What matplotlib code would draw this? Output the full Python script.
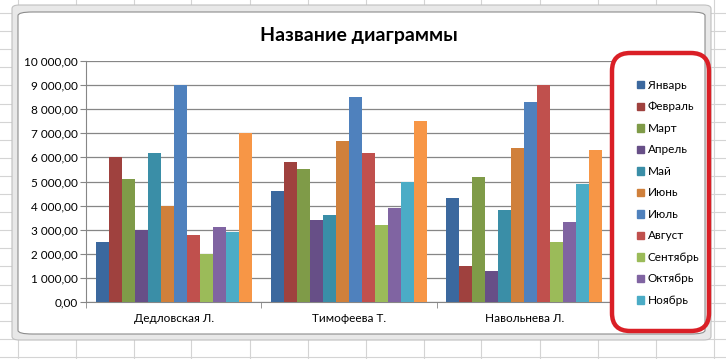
import numpy as np
import matplotlib
matplotlib.use("Agg")
import matplotlib.pyplot as plt
from matplotlib.patches import FancyBboxPatch, Rectangle
from matplotlib.lines import Line2D
from matplotlib.ticker import FuncFormatter

# chart data
people = ["Дедловская Л.", "Тимофеева Т.", "Навольнева Л."]
months = ["Январь", "Февраль", "Март", "Апрель", "Май", "Июнь", "Июль",
          "Август", "Сентябрь", "Октябрь", "Ноябрь", "Декабрь"]
dedlovskaya = [2500, 6000, 5100, 3000, 6200, 4000, 9000, 2800, 2000, 3100, 2900, 7000]
timofeeva = [4600, 5800, 5500, 3400, 3600, 6700, 8500, 6200, 3200, 3900, 5000, 7500]
navolneva = [4300, 1500, 5200, 1300, 3800, 6400, 8300, 9000, 2500, 3300, 4900, 6300]
legend_months = months[:11]  # December is cut off in the legend box

colors = ["#3B689E", "#9F413E", "#7F9B48", "#674F87", "#3A8EA7", "#D0803B",
          "#4F81BD", "#C0504D", "#9BBB59", "#8064A2", "#4BACC6", "#F79646"]

plt.rcParams["font.family"] = ["Lato", "DejaVu Sans"]

W, H = 726, 359
fig = plt.figure(figsize=(W / 100, H / 100), dpi=100)


def fx(px):
    return px / W


def fy(py):
    return 1 - py / H


# spreadsheet grid in the background
for x in np.arange(17.5, W, 58):
    fig.add_artist(Line2D([fx(x), fx(x)], [0, 1], color="#D4D4D4", lw=0.8, zorder=-30))
for y in np.arange(13, H, 18.1):
    fig.add_artist(Line2D([0, 1], [fy(y), fy(y)], color="#D4D4D4", lw=0.8, zorder=-30))

# chart object frame (selection border + white chart area)
fig.add_artist(FancyBboxPatch((fx(12), fy(340)), fx(711) - fx(12), fy(5) - fy(340),
                              boxstyle="round,pad=0,rounding_size=0.01",
                              fc="#E8E8E8", ec="#C0C0C0", lw=0.8, zorder=-20,
                              transform=fig.transFigure))
fig.add_artist(FancyBboxPatch((fx(18), fy(334)), fx(705) - fx(18), fy(12) - fy(334),
                              boxstyle="round,pad=0,rounding_size=0.02",
                              fc="white", ec="#8C8C8C", lw=0.8, zorder=-10,
                              transform=fig.transFigure, mutation_aspect=0.5))

ax = fig.add_axes([fx(86), fy(302), fx(612) - fx(86), fy(61) - fy(302)])
ax.set_facecolor("none")

series = np.array([dedlovskaya, timofeeva, navolneva])
n = len(months)
bar_w = 0.89 / n
x = np.arange(len(people))
for i in range(n):
    ax.bar(x - 0.445 + bar_w * (i + 0.5), series[:, i], width=bar_w,
           color=colors[i], label=months[i], zorder=3)

ax.set_xlim(-0.5, len(people) - 0.5)
ax.set_ylim(0, 10000)
ax.set_yticks(np.arange(0, 10001, 1000))
ax.yaxis.set_major_formatter(FuncFormatter(
    lambda v, p: f"{v:,.2f}".replace(",", " ").replace(".", ",")))
ax.yaxis.grid(True, color="#868686", lw=0.9, zorder=0)
ax.set_axisbelow(True)
ax.set_xticks(x)
ax.set_xticklabels(people)
ax.set_xticks(np.arange(len(people) + 1) - 0.5, minor=True)
ax.tick_params(axis="x", which="major", length=0, pad=8, labelsize=8.5)
ax.tick_params(axis="x", which="minor", length=4, color="#868686", direction="out")
ax.tick_params(axis="y", length=4, color="#868686", labelsize=8.5, pad=2)
for s in ["top", "right"]:
    ax.spines[s].set_visible(False)
ax.spines["left"].set_color("#868686")
ax.spines["bottom"].set_color("#868686")

fig.text(fx(359), fy(35), "Название диаграммы", ha="center", va="center",
         fontsize=14, fontweight="bold")

# legend with red highlight box
handles = [Rectangle((0, 0), 1, 1, color=colors[i]) for i in range(11)]
leg = fig.legend(handles, legend_months, loc="upper left",
                 bbox_to_anchor=(fx(631), fy(74)), frameon=False,
                 fontsize=8.5, handlelength=0.6, handleheight=0.6,
                 handletextpad=0.3, labelspacing=0.89, borderpad=0)
fig.add_artist(FancyBboxPatch((fx(612), fy(331)), fx(709) - fx(612), fy(53) - fy(331),
                              boxstyle="round,pad=0,rounding_size=0.025",
                              fc="none", ec="#DA1F26", lw=3.2,
                              transform=fig.transFigure, mutation_aspect=2.0))

fig.savefig("out.png", dpi=100)
